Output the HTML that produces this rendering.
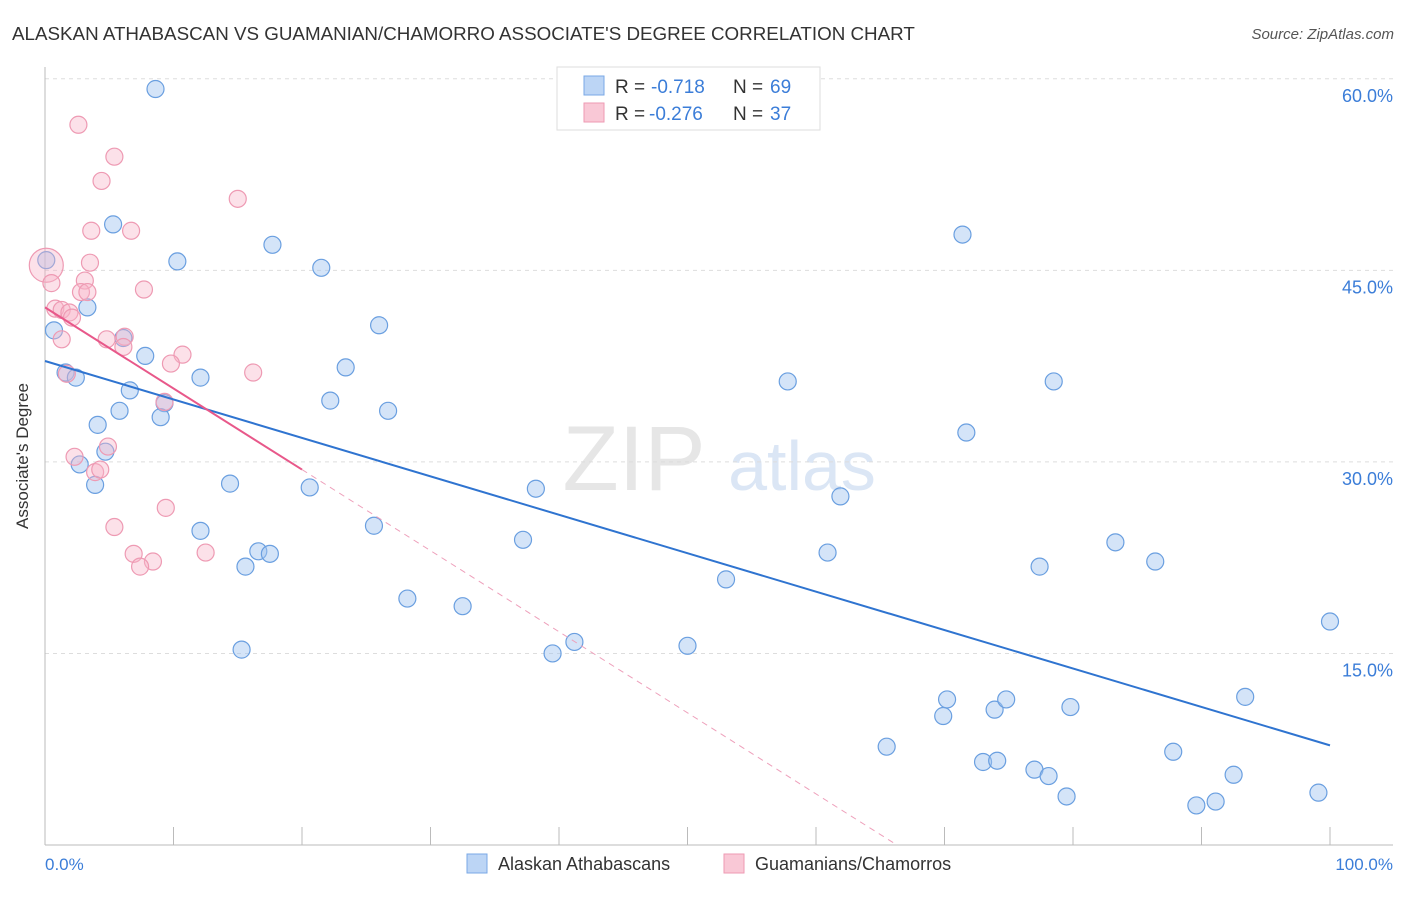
<!DOCTYPE html>
<html><head><meta charset="utf-8"><style>
body{margin:0;background:#fff;font-family:"Liberation Sans",sans-serif;}
svg text{font-family:"Liberation Sans",sans-serif;}
</style></head><body>
<svg width="1406" height="892" viewBox="0 0 1406 892">
<text x="12" y="40" font-size="18.8" fill="#333">ALASKAN ATHABASCAN VS GUAMANIAN/CHAMORRO ASSOCIATE'S DEGREE CORRELATION CHART</text>
<text x="1394" y="39" font-size="15" fill="#555" font-style="italic" text-anchor="end">Source: ZipAtlas.com</text>
<text x="634" y="490" font-size="92" fill="#e6e6e6" font-family="Liberation Serif" text-anchor="middle">ZIP</text>
<text x="802" y="490" font-size="70" fill="#dbe6f5" text-anchor="middle">atlas</text>
<g id="grid"></g>
<g id="ticks"></g>
<line x1="45" y1="67" x2="45" y2="845" stroke="#bbb"/>
<line x1="45" y1="845" x2="1393" y2="845" stroke="#bbb"/>
<text x="28" y="456" font-size="17" fill="#333" text-anchor="middle" transform="rotate(-90 28 456)">Associate's Degree</text>
<text x="45" y="870" font-size="17" fill="#3b7dd8">0.0%</text>
<text x="1393" y="870" font-size="17" fill="#3b7dd8" text-anchor="end">100.0%</text>
<g id="pts"></g>
<g id="lines"></g>
<rect x="557" y="67" width="263" height="63" fill="#fff" stroke="#ddd"/>
<rect x="584" y="76" width="20" height="19" fill="#bcd5f5" stroke="#7aa8e6"/>
<rect x="584" y="103" width="20" height="19" fill="#f9c8d6" stroke="#ee9ab3"/>
<text x="615" y="93" font-size="19" fill="#333">R =</text>
<text x="651" y="93" font-size="19" fill="#3b7dd8">-0.718</text>
<text x="733" y="93" font-size="19" fill="#333">N =</text>
<text x="770" y="93" font-size="19" fill="#3b7dd8">69</text>
<text x="615" y="120" font-size="19" fill="#333">R =</text>
<text x="649" y="120" font-size="19" fill="#3b7dd8">-0.276</text>
<text x="733" y="120" font-size="19" fill="#333">N =</text>
<text x="770" y="120" font-size="19" fill="#3b7dd8">37</text>
<rect x="467" y="854" width="20" height="19" fill="#bcd5f5" stroke="#7aa8e6"/>
<text x="498" y="870" font-size="18" fill="#333">Alaskan Athabascans</text>
<rect x="724" y="854" width="20" height="19" fill="#f9c8d6" stroke="#ee9ab3"/>
<text x="755" y="870" font-size="18" fill="#333">Guamanians/Chamorros</text>
</svg>
<script>
const yTicks=[15,30,45,60];
const yTickLabels=["15.0%","30.0%","45.0%","60.0%"];
const xTicks=[0,10,20,30,40,50,60,70,80,90,100];
const blueX=[8.6,5.3,10.3,17.7,21.5,0.1,3.3,0.7,6.1,7.8,1.6,2.4,6.6,12.1,23.4,26.0,22.2,26.7,5.8,9.3,9.0,4.1,4.7,2.7,3.9,14.4,20.6,12.1,16.6,17.5,15.6,25.6,15.3,28.2,32.5,37.2,38.2,39.5,41.2,50.0,53.0,57.8,60.9,61.9,71.4,71.7,65.5,69.9,70.2,73.0,74.1,73.9,74.8,78.5,77.4,77.0,78.1,79.5,79.8,83.3,86.4,87.8,89.6,91.1,92.5,93.4,99.1,100.0];
const blueY=[59.2,48.6,45.7,47.0,45.2,45.8,42.1,40.3,39.7,38.3,37.0,36.6,35.6,36.6,37.4,40.7,34.8,34.0,34.0,34.6,33.5,32.9,30.8,29.8,28.2,28.3,28.0,24.6,23.0,22.8,21.8,25.0,15.3,19.3,18.7,23.9,27.9,15.0,15.9,15.6,20.8,36.3,22.9,27.3,47.8,32.3,7.7,10.1,11.4,6.5,6.6,10.6,11.4,36.3,21.8,5.9,5.4,3.8,10.8,23.7,22.2,7.3,3.1,3.4,5.5,11.6,4.1,17.5];
const pinkX=[2.6,5.4,4.4,15.0,3.6,6.7,3.5,0.1,0.5,3.1,2.8,3.3,7.7,0.8,1.3,1.9,2.1,1.3,4.8,6.2,6.1,10.7,9.8,16.2,9.3,4.9,2.3,3.9,4.3,9.4,5.4,12.5,6.9,8.4,7.4,1.7];
const pinkY=[56.4,53.9,52.0,50.6,48.1,48.1,45.6,45.4,44.0,44.2,43.3,43.3,43.5,42.0,41.9,41.7,41.3,39.6,39.6,39.8,39.0,38.4,37.7,37.0,34.7,31.2,30.4,29.2,29.4,26.4,24.9,22.9,22.8,22.2,21.8,36.9];
const blueTrend=[37.9,7.8];
const pinkTrend=[42.1,29.4];
const NS="http://www.w3.org/2000/svg";
const xs=v=>45+v*12.85, ys=v=>845-v*12.77;
function mk(t,a,p){const e=document.createElementNS(NS,t);for(const k in a)e.setAttribute(k,a[k]);p.appendChild(e);return e;}
const grid=document.getElementById('grid');
yTicks.forEach((t,i)=>{
 const l=mk('line',{x1:45,x2:1393,y1:ys(t),y2:ys(t),stroke:'#ddd','stroke-dasharray':'4,4'},grid);
 
 
 const tx=mk('text',{x:1393,y:ys(t)+23,'font-size':18,fill:'#3b7dd8','text-anchor':'end'},grid);
 tx.textContent=yTickLabels[i];
 
 
});
const tk=document.getElementById('ticks');
xTicks.forEach(t=>{
 const l=mk('line',{x1:xs(t),x2:xs(t),y1:827,y2:845,stroke:'#bbb'},tk);
 
 
});
const pts=document.getElementById('pts');
blueX.forEach((x,i)=>{
 const c=mk('circle',{cx:xs(x),cy:ys(blueY[i]),r:8.5,fill:'rgba(160,196,240,0.45)',stroke:'#6a9fe0','stroke-width':1.2},pts);
 
 
});
pinkX.forEach((x,i)=>{
 const c=mk('circle',{cx:xs(x),cy:ys(pinkY[i]),r:i===7?17:8.5,fill:'rgba(248,180,200,0.4)',stroke:'#ee9ab3','stroke-width':1.2},pts);
 
 
});
const ln=document.getElementById('lines');
const bl=mk('line',{x1:xs(0),y1:ys(blueTrend[0]),x2:xs(100),y2:ys(blueTrend[1]),stroke:'#2f74d0','stroke-width':2},ln);


const slope=(pinkTrend[1]-pinkTrend[0])/20, x0=-pinkTrend[0]/slope;
const pl=mk('line',{x1:xs(0),y1:ys(pinkTrend[0]),x2:xs(20),y2:ys(pinkTrend[1]),stroke:'#e8588a','stroke-width':2},ln);


const pd=mk('line',{x1:xs(20),y1:ys(pinkTrend[1]),x2:xs(x0),y2:ys(0),stroke:'#eea0bb','stroke-width':1,'stroke-dasharray':'6,5'},ln);


</script>
</body></html>
